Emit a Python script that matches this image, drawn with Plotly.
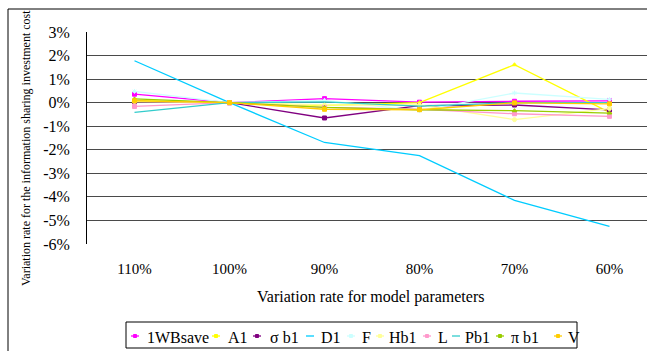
import plotly.graph_objects as go

categories = ["110%", "100%", "90%", "80%", "70%", "60%"]

# values in percent
s_1WBsave = [0.36, 0.0, 0.17, 0.02, 0.06, 0.08]
s_A1 = [0.10, 0.0, -0.12, 0.00, 1.61, -0.41]
s_sigma_b1 = [0.05, 0.0, -0.65, -0.13, -0.10, -0.31]
s_D1 = [1.78, 0.0, -1.69, -2.25, -4.15, -5.25]
s_F = [0.48, 0.0, 0.10, -0.34, 0.41, 0.14]
s_Hb1 = [0.05, 0.0, -0.10, -0.10, -0.72, -0.25]
s_L = [-0.16, 0.0, -0.20, -0.28, -0.47, -0.58]
s_Pb1 = [-0.41, 0.0, 0.03, -0.15, 0.00, 0.00]
s_pi_b1 = [0.16, 0.0, -0.20, -0.30, -0.34, -0.44]
s_V = [0.08, 0.0, -0.28, -0.30, -0.01, -0.05]

series_names = ["1WBsave", "A1", "σ b1", "D1", "F", "Hb1", "L", "Pb1", "π b1", "V"]
series_values = [s_1WBsave, s_A1, s_sigma_b1, s_D1, s_F, s_Hb1, s_L, s_Pb1, s_pi_b1, s_V]
series_colors = ["#FF00FF", "#FFFF00", "#800080", "#00CCFF", "#CCFFFF",
                 "#FFFF99", "#FF99CC", "#33CCCC", "#99CC00", "#FFCC00"]
series_symbols = ["square", "triangle-up", "square", None, "asterisk",
                  "circle", "square", None, "triangle-up", "square"]

y_ticks = [3, 2, 1, 0, -1, -2, -3, -4, -5, -6]
y_ticklabels = ["3%", "2%", "1%", "0%", "-1%", "-2%", "-3%", "-4%", "-5%", "-6%"]

FONT = "Liberation Serif, Times New Roman, serif"

W, H = 647, 351
ML, MR, MT, MB = 87, 0, 32, 107
PW, PH = W - ML - MR, H - MT - MB


def px(x):
    return (x - ML) / PW


def py(y):
    return (H - MB - y) / PH


fig = go.Figure()
for name, vals, col, sym in zip(series_names, series_values, series_colors, series_symbols):
    fig.add_trace(go.Scatter(
        x=list(range(len(categories))), y=vals, name=name,
        mode="lines+markers" if sym else "lines",
        line=dict(color=col, width=1.3),
        marker=dict(color=col, size=4, symbol=sym or "circle", line=dict(color=col, width=1)),
        showlegend=False,
    ))

fig.update_layout(
    width=W, height=H,
    margin=dict(l=ML, r=MR, t=MT, b=MB, autoexpand=False),
    paper_bgcolor="white", plot_bgcolor="white",
    font=dict(family=FONT, color="black", size=15),
    showlegend=False,
    xaxis=dict(
        range=[-0.5, 5.395], tickmode="array", tickvals=list(range(len(categories))),
        ticktext=categories, showgrid=False, zeroline=False, showline=False,
        ticks="", ticklabelstandoff=14, tickfont=dict(family=FONT, size=15, color="black"),
    ),
    yaxis=dict(
        range=[-6, 3], tickmode="array", tickvals=y_ticks, ticktext=y_ticklabels,
        showgrid=True, gridcolor="#4a4a4a", gridwidth=1,
        zeroline=True, zerolinecolor="#4a4a4a", zerolinewidth=1,
        showline=True, linecolor="black", linewidth=1,
        ticks="", ticklabelstandoff=13, tickfont=dict(family=FONT, size=16, color="black"),
    ),
)

fig.add_annotation(
    text="Variation rate for model parameters", xref="paper", yref="paper",
    x=px(370), y=py(297), showarrow=False,
    font=dict(family=FONT, size=16, color="black"), xanchor="center", yanchor="middle",
)
fig.add_annotation(
    text="Variation rate for the information sharing investment cost",
    xref="paper", yref="paper", x=px(26), y=py(148),
    textangle=-90, showarrow=False, font=dict(family=FONT, size=12, color="black"),
    xanchor="center", yanchor="middle",
)
# outer chart border
fig.add_shape(type="rect", xref="paper", yref="paper",
              x0=px(8), x1=1.2, y0=-1.0, y1=py(9),
              line=dict(color="black", width=1), fillcolor="rgba(0,0,0,0)", layer="below")

# custom one-row legend
legend_box = (126, 322, 577, 348)
legend_mark_x = [135, 216, 257, 310, 351, 380, 427, 456, 500, 558]
legend_text_x = [145, 226, 268, 319, 360, 387, 436, 463, 509, 566]
ly = 336
fig.add_shape(type="rect", xref="paper", yref="paper",
              x0=px(legend_box[0]), x1=px(legend_box[2]),
              y0=py(legend_box[3]), y1=py(legend_box[1]),
              line=dict(color="black", width=1), fillcolor="white")
for name, col, sym, mx, tx in zip(series_names, series_colors, series_symbols,
                                  legend_mark_x, legend_text_x):
    fig.add_shape(type="line", xref="paper", yref="paper",
                  x0=px(mx - 4), x1=px(mx + 4), y0=py(ly), y1=py(ly),
                  line=dict(color=col, width=1.3))
    if sym:
        fig.add_shape(type="rect", xref="paper", yref="paper",
                      x0=px(mx - 1.5), x1=px(mx + 1.5), y0=py(ly + 1.5), y1=py(ly - 1.5),
                      line=dict(color=col, width=1), fillcolor=col)
    fig.add_annotation(text=name, xref="paper", yref="paper", x=px(tx), y=py(ly + 1),
                       xanchor="left", yanchor="middle", showarrow=False,
                       font=dict(family=FONT, size=16, color="black"))

fig.write_html("out.html", config={"displayModeBar": False, "staticPlot": True},
               post_script="document.body.style.margin='0';document.body.style.overflow='hidden';")
